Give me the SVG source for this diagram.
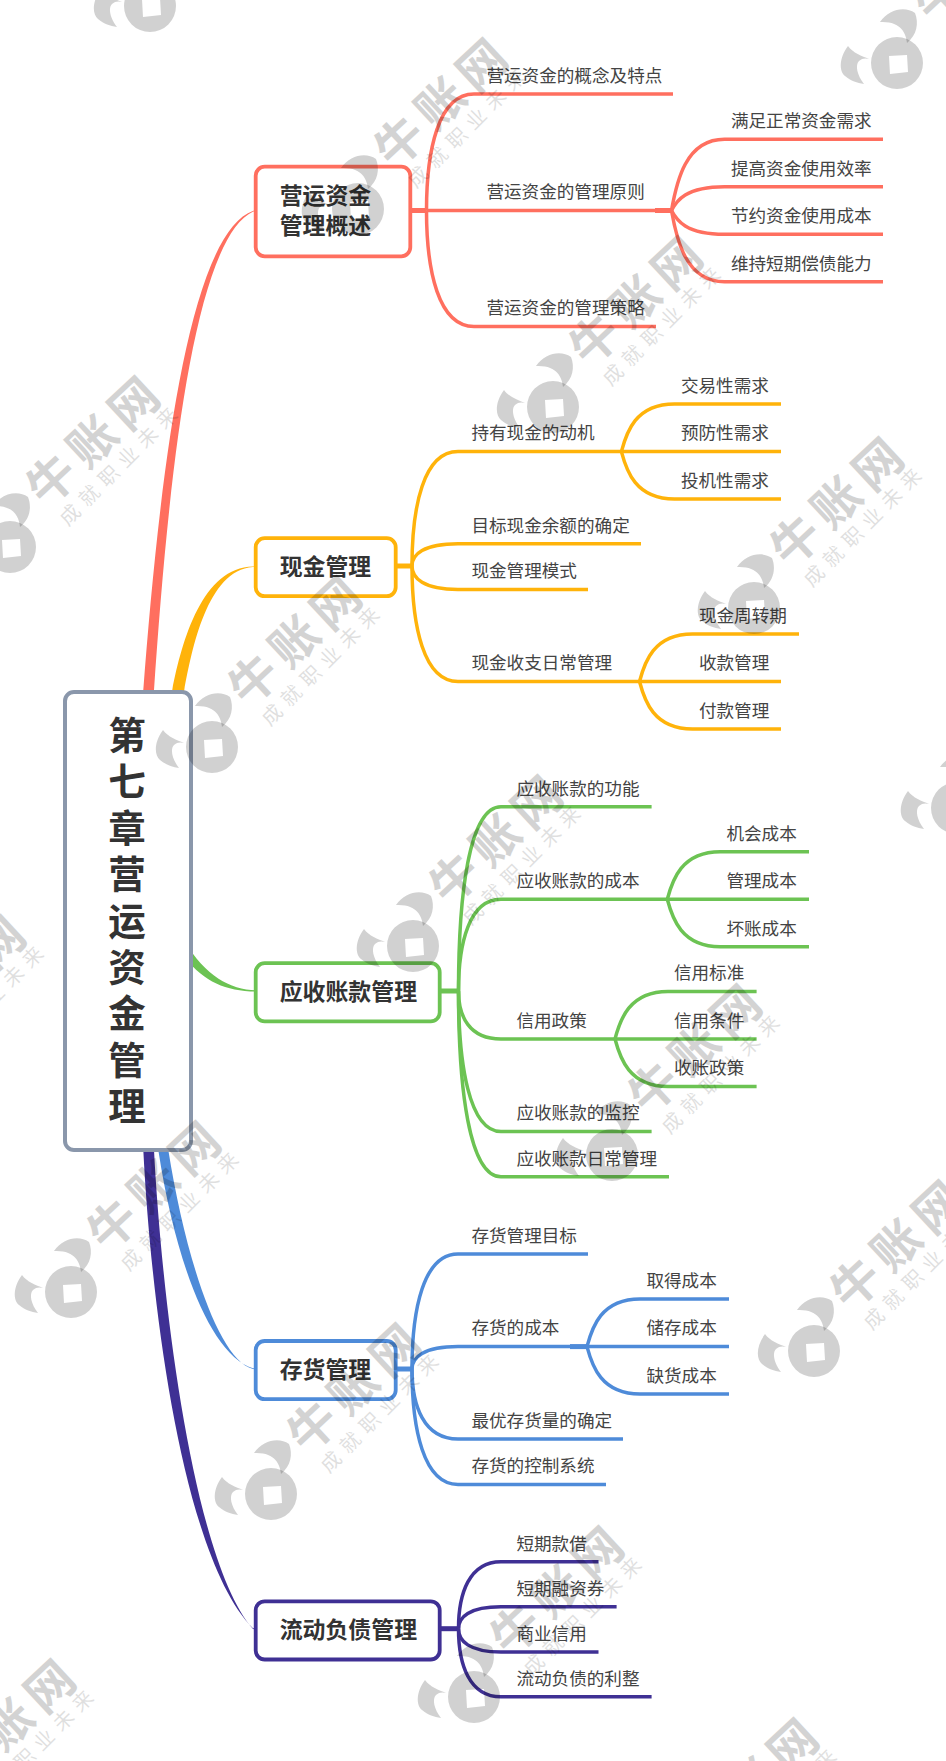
<svg xmlns="http://www.w3.org/2000/svg" width="946" height="1761" viewBox="0 0 946 1761">
<style>
text{font-family:"Noto Sans CJK SC","Noto Sans",sans-serif;fill:#444}
.t{font-size:17.6px;transform:translate(-.6px,-1.1px)}
.n{font-size:22.9px;font-weight:700;fill:#333}
.r{font-size:37.5px;font-weight:700;fill:#333;writing-mode:vertical-rl;letter-spacing:8.9px}
.box{fill:#fff;stroke-width:3.8}
.c{fill:none;stroke-width:3.5}
.stub{fill:none;stroke-width:5}
.red{stroke:#ff6f5f}.yel{stroke:#ffb30a}.grn{stroke:#6cc353}.blu{stroke:#4e8bd9}.pur{stroke:#3f3094}
.wm1{font-size:48px;font-weight:700;letter-spacing:8px;fill:#000;opacity:.17}
.wm2{font-size:20px;letter-spacing:7.4px;fill:#000;opacity:.12}
.wm3{fill:#000;opacity:.18}
</style>
<defs>
<g id="wm">
<path class="wm3" fill-rule="evenodd" d="M-26,0A26,26 0 1 0 26,0A26,26 0 1 0 -26,0ZM-8,-7L10,-8L11,9L-7,11Z"/>
<path class="wm3" d="M-17,-41C-8,-54 8,-57 18,-50C22,-40 20,-28 10,-20C9,-30 4,-42 -17,-41Z"/>
<path class="wm3" d="M-49,-17C-58,-5 -58,8 -52,13C-46,18 -40,20 -33,21C-40,12 -42,2 -38,-2C-35,-5 -31,-5 -28,-4C-35,-7 -44,-10 -49,-17Z"/>
<text class="wm1" transform="translate(42,-67) rotate(-43)" x="-24" y="17">牛账网</text>
<text class="wm2" transform="translate(60,-32) rotate(-45)" x="-10" y="7">成就职业未来</text>
</g>
</defs>
<rect width="946" height="1761" fill="#fff"/>
<g id="connectors">
<g id="main-branches">
<path fill="#ff6f5f" d="M142.5,700L143.3,690C158,500 185,235 253.3,210.8L256,210.6L256,211.4L253.3,211.6C191,240 167,500 154,690L153.3,700Z"/>
<path fill="#ffb30a" d="M170,700L172.3,690C182,640 203,567 253,566.5L256,566.4L256,567L253,567C207,570 192,650 184.3,690L182,700Z"/>
<path fill="#6cc353" d="M185,942C205,975 230,990 256,990.3L256,991.6C225,991 205,982 185,958Z"/>
<path fill="#4e8bd9" d="M157,1140L158.3,1150C175,1260 210,1355 253,1368.3L256,1368.6L256,1369.4L253,1369C218,1360 185,1255 168.3,1150L167,1140Z"/>
<path fill="#3f3094" d="M142.8,1140L143.3,1150C152,1320 185,1560 253,1628.3L256,1628.6L256,1629.4L253,1629C196,1565 163,1320 154,1150L153.5,1140Z"/>
</g>
<g id="links-1">
<path class="stub red" d="M410,210.5H426.5"/>
<path class="c red" d="M426.5,210.5C426.5,150 438.4,94 474,94H673"/>
<path class="c red" d="M426.5,210.5H671.5"/>
<path class="c red" d="M426.5,210.5C426.5,270.8 438.4,326.4 474,326.4H656"/>
<path class="stub red" d="M655,210.5H671.5"/>
<path class="c red" d="M671.5,210.5C676.5,182 685.5,139.3 724.5,139.3H883"/>
<path class="c red" d="M671.5,210.5C676.5,201 685.5,186.8 724.5,186.8H883"/>
<path class="c red" d="M671.5,210.5C676.5,220 685.5,234.2 724.5,234.2H883"/>
<path class="c red" d="M671.5,210.5C676.5,239 685.5,281.7 724.5,281.7H883"/>
</g>
<g id="links-2">
<path class="stub yel" d="M396,566H412"/>
<path class="c yel" d="M412,566C412,506.5 423.5,451.6 458,451.6H781"/>
<path class="c yel" d="M412,566C412,554.5 423.5,543.8 458,543.8H641"/>
<path class="c yel" d="M412,566C412,578.2 423.5,589.4 458,589.4H588"/>
<path class="c yel" d="M412,566C412,626 423.5,681.5 458,681.5H781"/>
<path class="c yel" d="M621.4,451.6C626.4,432.6 635.4,404 674.4,404H781"/>
<path class="c yel" d="M621.4,451.6C626.4,470.6 635.4,499 674.4,499H781"/>
<path class="c yel" d="M639.5,681.5C644.5,662.5 653.5,634 692.5,634H799"/>
<path class="c yel" d="M639.5,681.5C644.5,700.5 653.5,729 692.5,729H781"/>
</g>
<g id="links-3">
<path class="stub grn" d="M440,991H458.5"/>
<path class="c grn" d="M458.5,991C458.5,895 469,806.7 501,806.7H651.6"/>
<path class="c grn" d="M458.5,991C458.5,943.3 469,899.3 501,899.3H809"/>
<path class="c grn" d="M458.5,991C458.5,1016 469,1039 501,1039H756.6"/>
<path class="c grn" d="M458.5,991C458.5,1064 469,1131.6 501,1131.6H651.6"/>
<path class="c grn" d="M458.5,991C458.5,1087.6 469,1176.7 501,1176.7H669"/>
<path class="c grn" d="M667.3,899.3C672.3,880.3 681.3,851.8 720.3,851.8H809"/>
<path class="c grn" d="M667.3,899.3C672.3,918.3 681.3,946.7 720.3,946.7H809"/>
<path class="c grn" d="M615,1039C620,1020 629,991.5 668,991.5H756.6"/>
<path class="c grn" d="M615,1039C620,1058 629,1086.4 668,1086.4H756.6"/>
</g>
<g id="links-4">
<path class="stub blu" d="M396,1369H412"/>
<path class="c blu" d="M412,1369C412,1309 423.5,1254 458,1254H588"/>
<path class="c blu" d="M412,1369C412,1357.4 423.5,1346.6 458,1346.6H729"/>
<path class="c blu" d="M412,1369C412,1405.4 423.5,1439 458,1439H623"/>
<path class="c blu" d="M412,1369C412,1429 423.5,1484.4 458,1484.4H606"/>
<path class="stub blu" d="M570,1346.6H587"/>
<path class="c blu" d="M587,1346.6C592,1327.6 601,1299 640,1299H729"/>
<path class="c blu" d="M587,1346.6C592,1365.6 601,1394 640,1394H729"/>
</g>
<g id="links-5">
<path class="stub pur" d="M440,1628.7H458.5"/>
<path class="c pur" d="M458.5,1628.7C458.5,1594 469,1561.7 501,1561.7H598.5"/>
<path class="c pur" d="M458.5,1628.7C458.5,1617.3 469,1606.8 501,1606.8H616.6"/>
<path class="c pur" d="M458.5,1628.7C458.5,1640.8 469,1652 501,1652H598.5"/>
<path class="c pur" d="M458.5,1628.7C458.5,1664 469,1696.8 501,1696.8H651.6"/>
</g>
</g>
<g id="root">
<rect x="65" y="692" width="126" height="458" rx="9" fill="#fff" stroke="#8a97ab" stroke-width="4"/>
<text class="r" x="127" y="716">第七章营运资金管理</text>
</g>
<g id="topic-1"><rect class="box red" x="255.7" y="166.7" width="154.6" height="89.6" rx="9"/><text class="n" x="279.7" y="204">营运资金</text><text class="n" x="279.7" y="234">管理概述</text></g>
<g id="topic-2"><rect class="box yel" x="255.7" y="538.2" width="140" height="58" rx="9"/><text class="n" x="279.7" y="574.5">现金管理</text></g>
<g id="topic-3"><rect class="box grn" x="255.7" y="963.2" width="184" height="58.2" rx="9"/><text class="n" x="279.7" y="1000">应收账款管理</text></g>
<g id="topic-4"><rect class="box blu" x="255.7" y="1341" width="140" height="58.2" rx="9"/><text class="n" x="279.7" y="1378">存货管理</text></g>
<g id="topic-5"><rect class="box pur" x="255.7" y="1601.3" width="184" height="58.2" rx="9"/><text class="n" x="279.7" y="1638">流动负债管理</text></g>
<g id="sub-1-1"><text class="t" x="487" y="83">营运资金的概念及特点</text></g>
<g id="sub-1-2"><text class="t" x="487" y="199.5">营运资金的管理原则</text></g>
<g id="sub-1-3"><text class="t" x="487" y="315.4">营运资金的管理策略</text></g>
<g id="sub-1-2-1"><text class="t" x="731.5" y="128.3">满足正常资金需求</text></g>
<g id="sub-1-2-2"><text class="t" x="731.5" y="175.8">提高资金使用效率</text></g>
<g id="sub-1-2-3"><text class="t" x="731.5" y="223.2">节约资金使用成本</text></g>
<g id="sub-1-2-4"><text class="t" x="731.5" y="270.7">维持短期偿债能力</text></g>
<g id="sub-2-1"><text class="t" x="472" y="440.6">持有现金的动机</text></g>
<g id="sub-2-2"><text class="t" x="472" y="532.8">目标现金余额的确定</text></g>
<g id="sub-2-3"><text class="t" x="472" y="578.4">现金管理模式</text></g>
<g id="sub-2-4"><text class="t" x="472" y="670.5">现金收支日常管理</text></g>
<g id="sub-2-1-1"><text class="t" x="681.5" y="393">交易性需求</text></g>
<g id="sub-2-1-2"><text class="t" x="681.5" y="440.6">预防性需求</text></g>
<g id="sub-2-1-3"><text class="t" x="681.5" y="488">投机性需求</text></g>
<g id="sub-2-4-1"><text class="t" x="699.5" y="623">现金周转期</text></g>
<g id="sub-2-4-2"><text class="t" x="699.5" y="670.5">收款管理</text></g>
<g id="sub-2-4-3"><text class="t" x="699.5" y="718">付款管理</text></g>
<g id="sub-3-1"><text class="t" x="517" y="795.7">应收账款的功能</text></g>
<g id="sub-3-2"><text class="t" x="517" y="888.3">应收账款的成本</text></g>
<g id="sub-3-3"><text class="t" x="517" y="1028">信用政策</text></g>
<g id="sub-3-4"><text class="t" x="517" y="1120.6">应收账款的监控</text></g>
<g id="sub-3-5"><text class="t" x="517" y="1165.7">应收账款日常管理</text></g>
<g id="sub-3-2-1"><text class="t" x="727" y="840.8">机会成本</text></g>
<g id="sub-3-2-2"><text class="t" x="727" y="888.3">管理成本</text></g>
<g id="sub-3-2-3"><text class="t" x="727" y="935.7">坏账成本</text></g>
<g id="sub-3-3-1"><text class="t" x="674.5" y="980.5">信用标准</text></g>
<g id="sub-3-3-2"><text class="t" x="674.5" y="1028">信用条件</text></g>
<g id="sub-3-3-3"><text class="t" x="674.5" y="1075.4">收账政策</text></g>
<g id="sub-4-1"><text class="t" x="472" y="1243">存货管理目标</text></g>
<g id="sub-4-2"><text class="t" x="472" y="1335.6">存货的成本</text></g>
<g id="sub-4-3"><text class="t" x="472" y="1428">最优存货量的确定</text></g>
<g id="sub-4-4"><text class="t" x="472" y="1473.4">存货的控制系统</text></g>
<g id="sub-4-2-1"><text class="t" x="647" y="1288">取得成本</text></g>
<g id="sub-4-2-2"><text class="t" x="647" y="1335.6">储存成本</text></g>
<g id="sub-4-2-3"><text class="t" x="647" y="1383">缺货成本</text></g>
<g id="sub-5-1"><text class="t" x="517" y="1550.7">短期款借</text></g>
<g id="sub-5-2"><text class="t" x="517" y="1595.8">短期融资券</text></g>
<g id="sub-5-3"><text class="t" x="517" y="1641">商业信用</text></g>
<g id="sub-5-4"><text class="t" x="517" y="1685.8">流动负债的利整</text></g>
<g id="watermarks">
<use href="#wm" x="150" y="6"/>
<use href="#wm" x="897" y="63"/>
<use href="#wm" x="358" y="209"/>
<use href="#wm" x="553" y="407"/>
<use href="#wm" x="10" y="547"/>
<use href="#wm" x="754" y="608"/>
<use href="#wm" x="212" y="747"/>
<use href="#wm" x="957" y="808"/>
<use href="#wm" x="413" y="946"/>
<use href="#wm" x="-124" y="1086"/>
<use href="#wm" x="612" y="1155"/>
<use href="#wm" x="71" y="1292"/>
<use href="#wm" x="814" y="1351"/>
<use href="#wm" x="271" y="1494"/>
<use href="#wm" x="474" y="1697"/>
<use href="#wm" x="-74" y="1830"/>
<use href="#wm" x="669" y="1889"/>
</g>
</svg>
